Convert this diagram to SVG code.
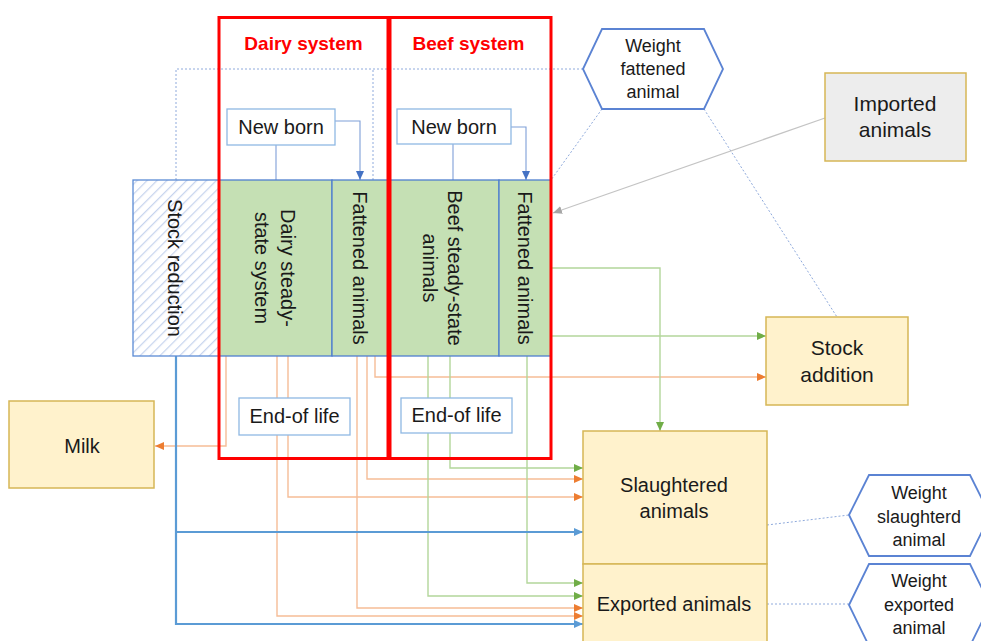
<svg xmlns="http://www.w3.org/2000/svg" width="981" height="641" viewBox="0 0 981 641">
<style>
text{font-family:"Liberation Sans",Arial,sans-serif;fill:#1a1a1a;}
.t20{font-size:20px;text-anchor:middle;}
.t21{font-size:21px;text-anchor:middle;}
.t18{font-size:18px;text-anchor:middle;}
.title{font-size:19px;font-weight:bold;fill:#ff0000;text-anchor:middle;}
.red{fill:none;stroke:#ff0000;stroke-width:3;}
.green{fill:#c5e0b4;stroke:#4f7fcf;stroke-width:1.3;}
.lbox{fill:#ffffff;stroke:#8fb8e3;stroke-width:1.3;}
.ybox{fill:#fff2cc;stroke:#d6b656;stroke-width:1.5;}
.hex{fill:#ffffff;stroke:#5b83d3;stroke-width:1.8;}
.co{fill:none;stroke:#f6bd97;stroke-width:1.4;}
.cg{fill:none;stroke:#b3d69b;stroke-width:1.4;}
.cb{fill:none;stroke:#5b9bd5;stroke-width:2.2;}
.cn{fill:none;stroke:#7f9fd8;stroke-width:1.1;}
.cd{fill:none;stroke:#8faadc;stroke-width:1;stroke-dasharray:2,2;}
.cgr{fill:none;stroke:#c4c4c4;stroke-width:1.2;}
</style>
<defs>
<pattern id="hatch" patternUnits="userSpaceOnUse" width="7" height="7" patternTransform="rotate(45)">
<rect width="7" height="7" fill="#ffffff"/>
<line x1="0" y1="0" x2="0" y2="7" stroke="#c7d4ee" stroke-width="2.5"/>
</pattern>
<marker id="ao" markerUnits="userSpaceOnUse" markerWidth="10" markerHeight="10" refX="9" refY="5" orient="auto"><path d="M0,1 L9,5 L0,9 Z" fill="#ed7d31"/></marker>
<marker id="ag" markerUnits="userSpaceOnUse" markerWidth="10" markerHeight="10" refX="9" refY="5" orient="auto"><path d="M0,1 L9,5 L0,9 Z" fill="#70ad47"/></marker>
<marker id="ab" markerUnits="userSpaceOnUse" markerWidth="10" markerHeight="10" refX="9" refY="5" orient="auto"><path d="M0,1 L9,5 L0,9 Z" fill="#5b9bd5"/></marker>
<marker id="an" markerUnits="userSpaceOnUse" markerWidth="10" markerHeight="10" refX="9" refY="5" orient="auto"><path d="M0,1 L9,5 L0,9 Z" fill="#4472c4"/></marker>
<marker id="agr" markerUnits="userSpaceOnUse" markerWidth="10" markerHeight="10" refX="9" refY="5" orient="auto"><path d="M0,1 L9,5 L0,9 Z" fill="#a6a6a6"/></marker>
</defs>

<g id="connectors">
<path class="cd" d="M176,180 V69 H583"/>
<path class="cd" d="M373,180 V69"/>
<path class="cd" d="M602,109 L551,180"/>
<path class="cd" d="M704,109 L837,317"/>
<path class="cd" d="M767,525 L849,515"/>
<path class="cd" d="M767,604 L849,604"/>
<path class="cgr" d="M825,118 L553,213" marker-end="url(#agr)"/>
<path class="cn" d="M276,145 V180"/>
<path class="cn" d="M335,121 H360 V180" marker-end="url(#an)"/>
<path class="cn" d="M453,144 V180"/>
<path class="cn" d="M511,127 H526 V180" marker-end="url(#an)"/>
<path class="co" d="M226,356 V446 H155" marker-end="url(#ao)"/>
<path class="co" d="M277,356 V616 H583" marker-end="url(#ao)"/>
<path class="co" d="M288,356 V497 H583" marker-end="url(#ao)"/>
<path class="co" d="M357,356 V608 H583" marker-end="url(#ao)"/>
<path class="co" d="M367,356 V479 H583" marker-end="url(#ao)"/>
<path class="co" d="M375,356 V377 H766" marker-end="url(#ao)"/>
<path class="cg" d="M428,356 V596 H583" marker-end="url(#ag)"/>
<path class="cg" d="M450,356 V468 H583" marker-end="url(#ag)"/>
<path class="cg" d="M527,356 V583 H583" marker-end="url(#ag)"/>
<path class="cg" d="M551,268 H660 V431" marker-end="url(#ag)"/>
<path class="cg" d="M551,336 H766" marker-end="url(#ag)"/>
<path class="cb" d="M176,356 V624 H583" marker-end="url(#ab)"/>
<path class="cb" d="M176,532 H583" marker-end="url(#ab)"/>
</g>

<g id="stock-reduction">
<rect x="133" y="180" width="86" height="176" fill="url(#hatch)" stroke="#5b8bd5" stroke-width="1.3"/>
<text class="t20" transform="translate(168,268) rotate(90)">Stock reduction</text>
</g>
<g id="dairy-steady">
<rect class="green" x="219" y="180" width="113" height="176"/>
<text class="t20" transform="translate(281,268) rotate(90)">Dairy steady-</text>
<text class="t20" transform="translate(255,268) rotate(90)">state system</text>
</g>
<g id="dairy-fattened">
<rect class="green" x="332" y="180" width="58" height="176"/>
<text class="t20" transform="translate(353,268) rotate(90)">Fattened animals</text>
</g>
<g id="beef-steady">
<rect class="green" x="390" y="180" width="109" height="176"/>
<text class="t20" transform="translate(448,268) rotate(90)">Beef steady-state</text>
<text class="t20" transform="translate(423,268) rotate(90)">animals</text>
</g>
<g id="beef-fattened">
<rect class="green" x="499" y="180" width="52" height="176"/>
<text class="t20" transform="translate(518,268) rotate(90)">Fattened animals</text>
</g>

<g id="dairy-system">
<rect class="red" x="219" y="17.5" width="169" height="441"/>
<text class="title" x="303.5" y="50">Dairy system</text>
</g>
<g id="beef-system">
<rect class="red" x="390" y="17.5" width="161" height="441"/>
<text class="title" x="468.5" y="50">Beef system</text>
</g>

<g id="dairy-newborn">
<rect class="lbox" x="227" y="109" width="108" height="36"/>
<text class="t20" x="281" y="134">New born</text>
</g>
<g id="beef-newborn">
<rect class="lbox" x="397" y="109" width="114" height="35"/>
<text class="t20" x="454" y="134">New born</text>
</g>
<g id="dairy-endoflife">
<rect class="lbox" x="239" y="398" width="111" height="37"/>
<text class="t20" x="294.5" y="423">End-of life</text>
</g>
<g id="beef-endoflife">
<rect class="lbox" x="401" y="398" width="111" height="35"/>
<text class="t20" x="456.5" y="422">End-of life</text>
</g>

<g id="weight-fattened">
<polygon class="hex" points="583,69 602,29 704,29 723,69 704,109 602,109"/>
<text class="t18" x="653" y="52">Weight</text>
<text class="t18" x="653" y="75">fattened</text>
<text class="t18" x="653" y="98">animal</text>
</g>
<g id="imported">
<rect x="825" y="73" width="141" height="88" fill="#ededed" stroke="#d6b656" stroke-width="1.5"/>
<text class="t21" x="895" y="111">Imported</text>
<text class="t21" x="895" y="137">animals</text>
</g>
<g id="stock-addition">
<rect class="ybox" x="766" y="317" width="142" height="88"/>
<text class="t21" x="837" y="355">Stock</text>
<text class="t21" x="837" y="382">addition</text>
</g>
<g id="milk">
<rect class="ybox" x="9" y="401" width="145" height="87"/>
<text class="t20" x="82" y="453">Milk</text>
</g>
<g id="slaughtered">
<rect class="ybox" x="583" y="431" width="184" height="133"/>
<text class="t20" x="674" y="492">Slaughtered</text>
<text class="t20" x="674" y="518">animals</text>
</g>
<g id="exported">
<rect class="ybox" x="583" y="564" width="184" height="82"/>
<text class="t20" x="674" y="611">Exported animals</text>
</g>
<g id="weight-slaughtered">
<polygon class="hex" points="849,515 869,475 970,475 990,515 970,556 869,556"/>
<text class="t18" x="919" y="499">Weight</text>
<text class="t18" x="919" y="523">slaughterd</text>
<text class="t18" x="919" y="546">animal</text>
</g>
<g id="weight-exported">
<polygon class="hex" points="849,605 869,564 970,564 990,605 970,646 869,646"/>
<text class="t18" x="919" y="587">Weight</text>
<text class="t18" x="919" y="611">exported</text>
<text class="t18" x="919" y="634">animal</text>
</g>
</svg>
